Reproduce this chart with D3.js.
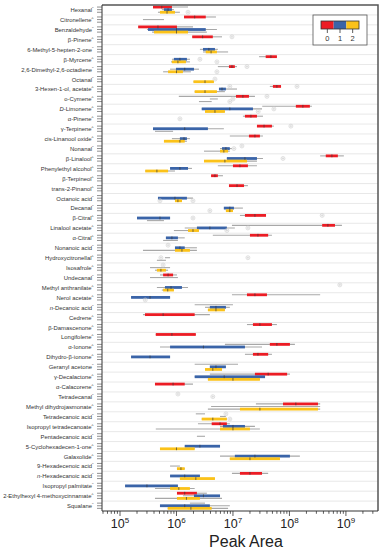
<!DOCTYPE html>
<html lang="en">
<head>
<meta charset="UTF-8" />
<title>Peak Area</title>
<style>
  body { margin: 0; background: #fff; }
  svg text { font-family: "Liberation Sans", Arial, sans-serif; }
</style>
</head>
<body>
<svg id="svg" width="383" height="550"></svg>
<script src="https://d3js.org/d3.v7.min.js"></script>
<script>
// compound names, last char is the superscript mark
const compounds = [
  'Hexanal"', "Citronellene^", 'Benzaldehyde"', "β-Pinene^", '6-Methyl-5-hepten-2-one"',
  "β-Myrcene^", '2,6-Dimethyl-2,6-octadiene"', 'Octanal"', "3-Hexen-1-ol, acetate^", "o-Cymene^",
  "D-Limonene^", "α-Pinene^", "γ-Terpinene^", "cis-Linanool oxide^", 'Nonanal"',
  "β-Linalool^", "Phenylethyl alcohol^", "β-Terpineol^", "trans-2-Pinanol^", 'Octanoic acid"',
  'Decanal"', "β-Citral^", "Linalool acetate^", "α-Citral^", 'Nonanoic acid"',
  "Hydroxycitronellal^", "Isosafrole^", 'Undecanal"', "Methyl anthranilate^", "Nerol acetate^",
  'n-Decanoic acid"', "Cedrene^", "β-Damascenone^", "Longifolene^", "α-Ionone^",
  "Dihydro-β-ionone^", 'Geranyl acetone"', "γ-Decalactone^", "α-Calacorene^", 'Tetradecanal"',
  "Methyl dihydrojasmonate^", 'Tetradecanoic acid"', "Isopropyl tetradecanoate^", 'Pentadecanoic acid"', "5-Cyclohexadecen-1-one^",
  "Galaxolide^", '9-Hexadecenoic acid"', 'n-Hexadecanoic acid"', 'Isopropyl palmitate"', "2-Ethylhexyl 4-methoxycinnamate^",
  'Squalane"'
];

const groupNames = ["0", "1", "2"];

// [whisker low, q1, median, q3, whisker high] per compound, null = not detected
const group0 = [
  [3.84e5, 3.84e5, 5.5e5, 8.3e5, 1.6e6],
  [1.36e6, 1.36e6, 2.1e6, 3.3e6, 5.0e6],
  [2.1e5, 2.1e5, 4.7e5, 1.02e6, 1.96e6],
  [1.9e6, 1.9e6, 2.9e6, 4.4e6, 6.4e6],
  null,
  [2.9e7, 3.8e7, 4.7e7, 6.0e7, 6.0e7],
  [5.4e6, 8.5e6, 9.6e6, 1.08e7, 1.18e7],
  null,
  [4.5e7, 5.1e7, 6.0e7, 7.1e7, 7.1e7],
  [1.1e6, 1.13e7, 1.5e7, 1.92e7, 2.45e7],
  [3.3e7, 1.3e8, 1.73e8, 2.3e8, 2.5e8],
  [1.5e7, 1.63e7, 2.08e7, 2.66e7, 3.4e7],
  [2.66e7, 2.66e7, 3.55e7, 4.9e7, 5.3e7],
  [8.8e6, 1.92e7, 2.45e7, 3.0e7, 3.4e7],
  null,
  [3.5e8, 4.4e8, 5.65e8, 7.2e8, 9.2e8],
  [5.4e6, 1.0e7, 1.33e7, 1.84e7, 2.66e7],
  [4.1e6, 4.1e6, 4.8e6, 5.4e6, 6.65e6],
  [8.5e6, 8.5e6, 1.18e7, 1.57e7, 1.84e7],
  null,
  null,
  [1.33e7, 1.63e7, 2.45e7, 3.85e7, 3.85e7],
  [9.6e6, 3.8e8, 4.8e8, 6.4e8, 8.5e8],
  [4.4e6, 2.0e7, 2.77e7, 4.2e7, 4.9e7],
  null,
  null,
  null,
  [5.1e5, 5.8e5, 7.1e5, 8.7e5, 1.02e6],
  null,
  [9.6e6, 1.77e7, 2.45e7, 4.0e7, 3.5e8],
  [2.1e6, 4.6e6, 4.6e6, 4.6e6, 1.0e7],
  [2.55e5, 2.77e5, 5.8e5, 2.1e6, 3.9e6],
  [1.77e7, 2.26e7, 3.0e7, 4.9e7, 6.0e7],
  [4.3e5, 4.3e5, 8.3e5, 2.2e6, 2.2e6],
  [7.2e6, 4.5e7, 6.0e7, 1.02e8, 1.25e8],
  [1.63e7, 2.26e7, 2.77e7, 4.2e7, 4.9e7],
  [2.1e6, 5.0e6, 5.0e6, 5.0e6, 1.23e7],
  [3.9e6, 2.45e7, 4.2e7, 9.1e7, 1.02e8],
  [4.16e5, 4.16e5, 8.7e5, 1.4e6, 1.96e6],
  null,
  [2.55e7, 7.7e7, 1.3e8, 3.2e8, 3.5e8],
  [2.2e6, 2.6e6, 2.6e6, 2.6e6, 3.2e6],
  [2.4e6, 4.2e6, 5.9e6, 7.8e6, 8.8e6],
  null,
  null,
  null,
  null,
  [9.6e6, 1.33e7, 2.0e7, 3.27e7, 4.2e7],
  null,
  [1.02e6, 1.02e6, 1.4e6, 2.3e6, 3.45e6],
  [1.73e6, 2.3e6, 2.3e6, 2.3e6, 3.2e6]
];

const group1 = [
  [5.5e5, 6.0e5, 7.1e5, 8.3e5, 9.0e5],
  [2.55e5, 3.84e5, 3.84e5, 3.84e5, 6.0e5],
  [3.0e5, 3.13e5, 1.0e6, 3.3e6, 5.2e6],
  null,
  [2.6e6, 2.95e6, 3.75e6, 4.8e6, 5.4e6],
  [8.3e5, 9.0e5, 1.15e6, 1.53e6, 1.73e6],
  [7.7e5, 9.8e5, 1.4e6, 2.04e6, 2.5e6],
  null,
  [5.65e6, 5.65e6, 6.4e6, 7.5e6, 1.18e7],
  [3.9e6, 4.6e6, 4.6e6, 4.6e6, 5.4e6],
  [2.8e6, 2.8e6, 8.8e6, 2.26e7, 3.27e7],
  null,
  [3.84e5, 3.84e5, 1.4e6, 3.6e6, 6.9e6],
  [8.3e5, 1.15e6, 1.36e6, 1.53e6, 1.73e6],
  [5.9e6, 6.4e6, 7.5e6, 8.8e6, 9.6e6],
  [7.8e6, 7.8e6, 1.63e7, 2.66e7, 3.4e7],
  [7.7e5, 7.7e5, 1.15e6, 1.6e6, 1.88e6],
  null,
  null,
  [4.7e5, 4.7e5, 9.4e5, 1.53e6, 1.96e6],
  [6.9e6, 6.9e6, 8.8e6, 1.04e7, 1.5e7],
  [2.0e5, 2.0e5, 5.1e5, 7.7e5, 7.7e5],
  [1.4e6, 2.3e6, 3.9e6, 7.8e6, 1.08e7],
  [6.5e5, 6.5e5, 8.3e5, 1.06e6, 1.4e6],
  [9.4e5, 9.4e5, 1.15e6, 1.4e6, 2.3e6],
  [6.25e5, 7.0e5, 7.0e5, 7.0e5, 7.7e5],
  [3.4e5, 5.0e5, 5.0e5, 5.0e5, 7.7e5],
  [3.4e5, 6.0e5, 6.0e5, 6.0e5, 1.06e6],
  [4.5e5, 6.25e5, 8.0e5, 1.25e6, 1.6e6],
  [1.57e5, 1.57e5, 3.4e5, 7.7e5, 7.7e5],
  [3.2e6, 3.9e6, 5.0e6, 7.5e6, 8.8e6],
  null,
  null,
  null,
  [5.1e5, 7.7e5, 3.0e6, 1.63e7, 3.27e7],
  [1.57e5, 1.57e5, 3.4e5, 7.7e5, 7.7e5],
  [3.9e6, 3.9e6, 5.0e6, 7.5e6, 7.5e6],
  [2.1e6, 2.1e6, 7.0e6, 3.7e7, 3.7e7],
  null,
  null,
  [4.1e6, 1.0e7, 1.0e7, 1.0e7, 3.5e8],
  [5.9e6, 6.9e6, 6.9e6, 6.9e6, 7.5e6],
  [5.9e6, 6.65e6, 1.0e7, 1.63e7, 2.45e7],
  [2.3e6, 2.8e6, 2.8e6, 2.8e6, 3.2e6],
  [1.4e6, 1.4e6, 2.6e6, 5.9e6, 5.9e6],
  [5.9e6, 1.08e7, 2.45e7, 1.02e8, 1.53e8],
  [7.7e5, 9.0e5, 9.0e5, 9.0e5, 1.15e6],
  [7.7e5, 7.7e5, 1.4e6, 2.6e6, 2.6e6],
  [1.23e5, 1.23e5, 3.0e5, 1.06e6, 1.06e6],
  [1.3e6, 2.04e6, 3.0e6, 5.9e6, 5.9e6],
  [5.1e5, 5.1e5, 1.4e6, 3.9e6, 8.8e6]
];

const group2 = [
  [4.7e5, 5.1e5, 6.8e5, 9.4e5, 1.15e6],
  null,
  [3.7e5, 4.0e5, 1.0e6, 1.6e6, 3.45e6],
  null,
  [2.95e6, 3.3e6, 4.1e6, 5.2e6, 8.2e6],
  [8.0e5, 8.3e5, 1.06e6, 1.47e6, 1.73e6],
  [5.8e5, 7.1e5, 1.0e6, 1.3e6, 1.8e6],
  [2.0e6, 2.0e6, 3.2e6, 4.6e6, 4.6e6],
  [2.1e6, 2.1e6, 3.2e6, 5.2e6, 7.2e6],
  [2.5e6, 3.2e6, 3.2e6, 3.2e6, 4.2e6],
  [3.2e6, 3.2e6, 4.8e6, 7.2e6, 7.2e6],
  null,
  [4.16e5, 5.8e5, 5.8e5, 5.8e5, 8.7e5],
  [6.0e5, 6.0e5, 1.15e6, 1.4e6, 1.53e6],
  [3.07e6, 5.9e6, 6.9e6, 8.2e6, 8.8e6],
  [3.07e6, 3.07e6, 7.2e6, 1.77e7, 2.66e7],
  [2.8e5, 2.8e5, 4.5e5, 7.1e5, 9.4e5],
  null,
  null,
  [9.4e5, 9.4e5, 1.06e6, 1.25e6, 1.25e6],
  [7.5e6, 7.5e6, 8.8e6, 1.0e7, 1.0e7],
  [3.0e5, 4.16e5, 4.16e5, 4.16e5, 6.0e5],
  [9.0e5, 1.6e6, 1.96e6, 2.5e6, 2.5e6],
  [5.8e5, 7.7e5, 7.7e5, 7.7e5, 1.06e6],
  [2.55e5, 9.4e5, 1.25e6, 1.73e6, 2.3e6],
  [4.5e5, 5.5e5, 5.5e5, 5.5e5, 6.5e5],
  [4.16e5, 4.5e5, 5.3e5, 6.5e5, 7.1e5],
  null,
  [5.5e5, 5.8e5, 7.0e5, 9.0e5, 9.0e5],
  null,
  [3.6e6, 3.6e6, 5.0e6, 7.2e6, 7.2e6],
  null,
  null,
  null,
  null,
  null,
  [3.2e6, 3.2e6, 4.4e6, 6.4e6, 6.4e6],
  [3.6e6, 3.6e6, 1.0e7, 3.0e7, 3.0e7],
  null,
  null,
  [3.6e6, 1.33e7, 3.0e7, 3.2e8, 3.5e8],
  [2.8e6, 2.8e6, 4.4e6, 7.8e6, 7.8e6],
  [4.3e5, 5.9e6, 1.0e7, 2.0e7, 3.0e7],
  null,
  [5.1e5, 5.1e5, 1.0e6, 2.1e6, 2.1e6],
  [8.8e6, 8.8e6, 2.0e7, 6.8e7, 6.8e7],
  [1.02e6, 1.02e6, 1.2e6, 1.4e6, 1.4e6],
  [1.15e6, 1.15e6, 2.2e6, 4.8e6, 4.8e6],
  [4.16e5, 7.7e5, 1.1e6, 1.73e6, 2.1e6],
  [4.16e5, 1.02e6, 1.5e6, 2.6e6, 6.4e6],
  [7.0e5, 7.0e5, 1.8e6, 4.2e6, 8.2e6]
];

// [compound index, group, value]
const outliers = [
  [0, 2, 1.6e6], [3, 0, 9.6e6], [5, 1, 2.6e6], [5, 2, 5.2e6], [6, 0, 1.77e7], [6, 2, 5.2e6],
  [7, 1, 4.8e6], [8, 0, 1.36e8], [8, 0, 8.8e6], [9, 0, 4.0e7], [9, 1, 1.0e7], [9, 2, 8.8e6],
  [10, 1, 5.3e7], [10, 2, 2.8e7], [11, 1, 1.15e6], [12, 0, 1.06e8], [14, 1, 1.04e7], [14, 0, 1.44e7],
  [15, 1, 7.7e7], [19, 2, 5.1e5], [19, 2, 1.96e6], [20, 2, 3.9e6], [21, 1, 1.96e6], [21, 0, 3.8e8],
  [22, 1, 1.84e7], [22, 2, 7.8e6], [24, 0, 7.1e5], [25, 1, 5.3e5], [25, 1, 1.84e7], [26, 0, 5.8e5],
  [28, 0, 7.8e8], [29, 2, 2.8e5], [39, 0, 1.06e6], [39, 1, 4.4e6], [41, 0, 7.5e6], [41, 2, 8.8e6]
];

const colors = ["#ec1c24", "#3a64a8", "#fbc219"];

const m = { left: 102, right: 378, top: 5, bottom: 511 };
const svg = d3.select("#svg");

const x = d3.scaleLog().domain([4.8e4, 3.7e9]).range([m.left, m.right]);
const y = d3.scaleBand().domain(d3.range(compounds.length)).range([m.top, m.bottom]);
const off = d3.scalePoint().domain([0, 1, 2]).range([-2.9, 2.3]);
const cy = (i, g) => y(i) + y.bandwidth() / 2 + off(g);

// row separators
svg.append("g").selectAll("line")
  .data(d3.range(1, compounds.length))
  .join("line")
  .attr("x1", m.left).attr("x2", m.right)
  .attr("y1", d => y(d)).attr("y2", d => y(d))
  .attr("stroke", "#e2e2e2").attr("stroke-width", 0.8);

// boxes
const items = [];
[group0, group1, group2].forEach((arr, g) =>
  arr.forEach((s, i) => { if (s) items.push({ i, g, s }); }));

const bh = 2.8;
const boxes = svg.append("g");
boxes.selectAll("line.wh").data(items).join("line")
  .attr("class", "wh")
  .attr("x1", d => x(d.s[0])).attr("x2", d => x(d.s[4]))
  .attr("y1", d => cy(d.i, d.g)).attr("y2", d => cy(d.i, d.g))
  .attr("stroke", "#a8a8a8").attr("stroke-width", 1.1);
boxes.selectAll("rect").data(items.filter(d => d.s[3] > d.s[1])).join("rect")
  .attr("x", d => x(d.s[1]))
  .attr("width", d => x(d.s[3]) - x(d.s[1]))
  .attr("y", d => cy(d.i, d.g) - bh / 2)
  .attr("height", bh)
  .attr("fill", d => colors[d.g]);
boxes.selectAll("line.med").data(items.filter(d => d.s[3] > d.s[1])).join("line")
  .attr("class", "med")
  .attr("x1", d => x(d.s[2])).attr("x2", d => x(d.s[2]))
  .attr("y1", d => cy(d.i, d.g) - bh / 2).attr("y2", d => cy(d.i, d.g) + bh / 2)
  .attr("stroke", "#3a3a3a").attr("stroke-width", 0.7);

// outliers
const out = svg.append("g").selectAll("g").data(outliers).join("g")
  .attr("transform", d => `translate(${x(d[2])},${cy(d[0], d[1])})`)
  .attr("stroke", "#cfcfcf").attr("stroke-width", 0.6).attr("fill", "none");
out.append("circle").attr("r", 2);
out.append("path").attr("d", "M-1.4,0H1.4M0,-1.4V1.4");

// frame
svg.append("path")
  .attr("d", `M${m.left},${m.top}H${m.right}V${m.bottom}`)
  .attr("fill", "none").attr("stroke", "#555").attr("stroke-width", 1.5);
svg.append("path")
  .attr("d", `M${m.left},${m.top}V${m.bottom}H${m.right}`)
  .attr("fill", "none").attr("stroke", "#333").attr("stroke-width", 1);

// y ticks, one per group slot
const slots = [];
compounds.forEach((c, i) => [0, 1, 2].forEach(g => slots.push([i, g])));
svg.append("g").selectAll("line").data(slots).join("line")
  .attr("x1", m.left - 5).attr("x2", m.left)
  .attr("y1", d => cy(d[0], d[1])).attr("y2", d => cy(d[0], d[1]))
  .attr("stroke", "#444").attr("stroke-width", 0.6);

// compound labels
const lab = svg.append("g").selectAll("text").data(compounds).join("text")
  .attr("x", m.left - 8.5)
  .attr("y", (d, i) => y(i) + y.bandwidth() / 2 + 2.1)
  .attr("text-anchor", "end")
  .attr("font-size", 5.9)
  .attr("fill", "#333");
lab.each(function (d) {
  const t = d3.select(this);
  let name = d.slice(0, -1);
  const mark = d.slice(-1);
  if (/^[Dn]-/.test(name)) {
    t.append("tspan").attr("font-style", "italic").text(name[0]);
    name = name.slice(1);
  }
  t.append("tspan").text(name);
  t.append("tspan").attr("dy", -2).attr("font-size", 4.2).text(mark);
});

// x axis ticks
const ticks = x.ticks();
const isMajor = v => Math.abs(Math.log10(v) - Math.round(Math.log10(v))) < 1e-6;
svg.append("g").selectAll("line").data(ticks).join("line")
  .attr("x1", d => x(d)).attr("x2", d => x(d))
  .attr("y1", m.bottom).attr("y2", d => m.bottom + (isMajor(d) ? 5 : 2.8))
  .attr("stroke", "#333").attr("stroke-width", 0.8);
const tl = svg.append("g").selectAll("text").data(ticks.filter(isMajor)).join("text")
  .attr("x", d => x(d)).attr("y", 528)
  .attr("text-anchor", "middle")
  .attr("font-size", 12.5).attr("fill", "#222");
tl.append("tspan").text("10");
tl.append("tspan").attr("dy", -5).attr("font-size", 8).text(d => Math.round(Math.log10(d)));

svg.append("text")
  .attr("x", 246).attr("y", 547)
  .attr("text-anchor", "middle")
  .attr("font-size", 16).attr("fill", "#222")
  .text("Peak Area");

// legend
const lg = svg.append("g");
lg.append("rect").attr("x", 313).attr("y", 15).attr("width", 54).attr("height", 30)
  .attr("fill", "#fff").attr("stroke", "#555").attr("stroke-width", 0.8);
const lx = d3.scaleBand().domain(groupNames).range([321, 359]);
lg.selectAll("rect.sw").data(groupNames).join("rect")
  .attr("class", "sw")
  .attr("x", d => lx(d)).attr("y", 21)
  .attr("width", lx.bandwidth()).attr("height", 8)
  .attr("fill", (d, i) => colors[i]);
lg.append("rect").attr("x", 321).attr("y", 21).attr("width", 38).attr("height", 8)
  .attr("fill", "none").attr("stroke", "#333").attr("stroke-width", 0.8);
lg.selectAll("line").data(groupNames).join("line")
  .attr("x1", d => lx(d) + lx.bandwidth() / 2).attr("x2", d => lx(d) + lx.bandwidth() / 2)
  .attr("y1", 29).attr("y2", 33)
  .attr("stroke", "#333").attr("stroke-width", 0.8);
lg.selectAll("text").data(groupNames).join("text")
  .attr("x", d => lx(d) + lx.bandwidth() / 2).attr("y", 41)
  .attr("text-anchor", "middle").attr("font-size", 7.5).attr("fill", "#333")
  .text(d => d);
</script>
</body>
</html>
